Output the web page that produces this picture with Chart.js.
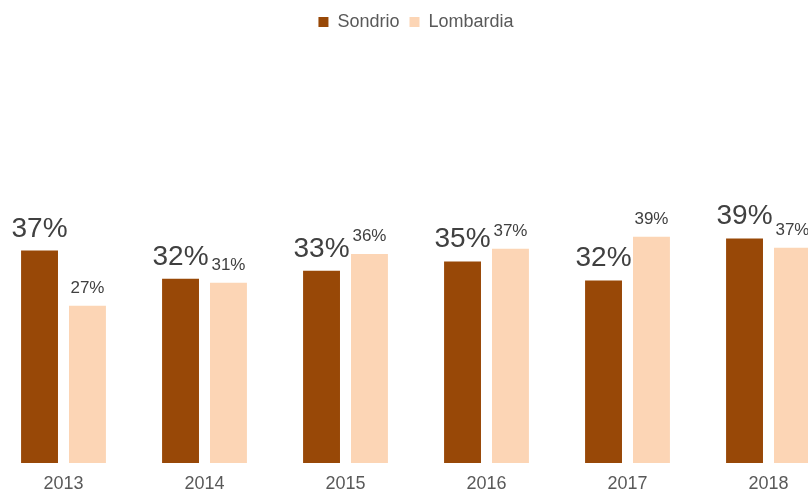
<!DOCTYPE html>
<html>
<head>
<meta charset="utf-8">
<script src="https://cdn.jsdelivr.net/npm/chart.js@4.4.1/dist/chart.umd.min.js"></script>
<style>
  html, body { margin: 0; padding: 0; background: #fff; overflow: hidden; }
  #wrap { position: relative; width: 846px; height: 495px; margin-left: -7px; }
</style>
</head>
<body>
<div id="wrap"><canvas id="chart"></canvas></div>
<script>
const years = ['2013', '2014', '2015', '2016', '2017', '2018'];
const sondrio = [0.369, 0.320, 0.334, 0.350, 0.317, 0.390];
const lombardia = [0.273, 0.313, 0.363, 0.372, 0.393, 0.374];

const FONT = '"Liberation Sans", Arial, sans-serif';

// etichette sopra le barre
const barLabels = {
    id: 'barLabels',
    afterDatasetsDraw(chart) {
        const ctx = chart.ctx;
        chart.data.datasets.forEach((ds, i) => {
            const meta = chart.getDatasetMeta(i);
            const size = i === 0 ? 28 : 17;
            ctx.save();
            ctx.font = size + 'px ' + FONT;
            ctx.fillStyle = '#404040';
            ctx.textAlign = 'center';
            ctx.textBaseline = 'alphabetic';
            meta.data.forEach((bar, j) => {
                const txt = Math.round(ds.data[j] * 100) + '%';
                ctx.fillText(txt, bar.x, bar.y - (i === 0 ? 14 : 13));
            });
            ctx.restore();
        });
    }
};

new Chart(document.getElementById('chart'), {
    type: 'bar',
    data: {
        labels: years,
        datasets: [{
            label: 'Sondrio',
            data: sondrio,
            backgroundColor: '#984807',
            categoryPercentage: 0.68,
            barPercentage: 0.77
        }, {
            label: 'Lombardia',
            data: lombardia,
            backgroundColor: '#FCD5B5',
            categoryPercentage: 0.68,
            barPercentage: 0.77
        }]
    },
    options: {
        responsive: true,
        maintainAspectRatio: false,
        animation: false,
        layout: { padding: { top: 3, bottom: 0, left: 0, right: 0 } },
        plugins: {
            legend: {
                position: 'top',
                labels: {
                    boxWidth: 10,
                    boxHeight: 10,
                    color: '#595959',
                    font: { family: FONT, size: 18 }
                }
            },
            tooltip: { enabled: false }
        },
        scales: {
            x: {
                grid: { display: false, drawTicks: false, tickLength: 0 },
                border: { display: false },
                ticks: {
                    color: '#595959',
                    padding: 10,
                    font: { family: FONT, size: 18 }
                },
                afterFit(scale) {
                    scale.height = 32;
                }
            },
            y: {
                display: false,
                min: 0,
                max: 0.733
            }
        }
    },
    plugins: [barLabels]
});
</script>
</body>
</html>
